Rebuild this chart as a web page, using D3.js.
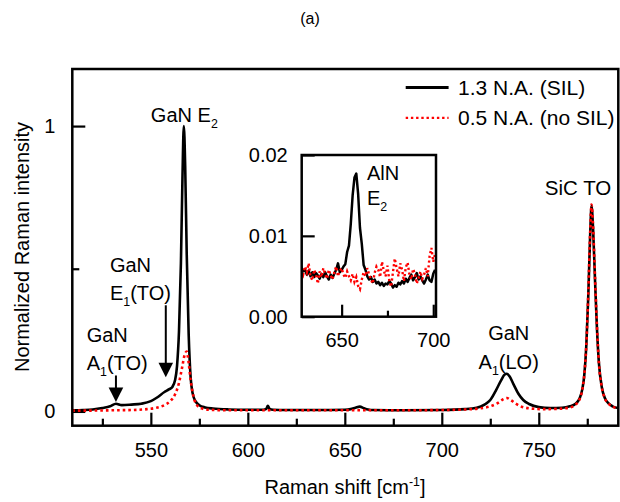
<html>
<head>
<script src="https://cdnjs.cloudflare.com/ajax/libs/d3/7.9.0/d3.min.js"></script>
<style>
  body { margin: 0; background: #fff; }
  text { font-family: "Liberation Sans", Arial, sans-serif; fill: #000; }
</style>
</head>
<body onload="main()">
</body>
<script>
// 1.3 N.A. (SIL), main panel
const silShift = [509.5, 515, 520, 525, 529, 532, 535, 540, 545, 550, 553, 557, 559.5, 561, 562.5, 563.5, 564.5, 565.5, 566.3, 567, 567.7, 568.5, 569.5, 570.5, 571.5, 573, 575, 578, 582, 590, 600, 608, 609.5, 610.3, 611.2, 613, 620, 635, 650, 653, 655.5, 657.7, 660, 662, 665, 680, 700, 712, 718, 722, 725, 728, 730.5, 732.5, 733.5, 735, 737, 739.5, 742, 745, 750, 756, 762, 766, 769, 771, 772.5, 773.5, 774.5, 775.5, 776.5, 777.2, 778, 779, 780, 781, 782.5, 784, 786, 788, 791]
const silIntensity = [0.004, 0.005, 0.007, 0.012, 0.018, 0.027, 0.022, 0.024, 0.027, 0.036, 0.048, 0.068, 0.078, 0.085, 0.11, 0.16, 0.28, 0.52, 0.82, 1.0, 0.86, 0.55, 0.27, 0.12, 0.065, 0.036, 0.022, 0.014, 0.01, 0.007, 0.006, 0.006, 0.009, 0.02, 0.009, 0.006, 0.005, 0.005, 0.006, 0.008, 0.013, 0.017, 0.011, 0.007, 0.005, 0.004, 0.005, 0.008, 0.013, 0.024, 0.04, 0.075, 0.108, 0.13, 0.132, 0.122, 0.095, 0.062, 0.04, 0.026, 0.015, 0.012, 0.013, 0.018, 0.027, 0.045, 0.08, 0.13, 0.23, 0.4, 0.62, 0.72, 0.64, 0.46, 0.29, 0.17, 0.085, 0.048, 0.028, 0.018, 0.012]

// 0.5 N.A. (no SIL), main panel
const noSilShift = [509.5, 520, 530, 540, 548, 553, 557, 560, 562.5, 564.5, 566, 567.5, 568.5, 569.5, 570.5, 571.5, 572.5, 574, 576, 580, 590, 610, 650, 680, 700, 712, 720, 725, 729, 731.5, 733.5, 735.5, 738, 741, 745, 752, 760, 766, 769, 771, 772.5, 773.5, 774.5, 775.5, 776.5, 777.2, 778, 779, 780, 781, 782.5, 784, 786, 788, 791]
const noSilIntensity = [0.003, 0.003, 0.004, 0.005, 0.008, 0.013, 0.022, 0.036, 0.06, 0.1, 0.15, 0.2, 0.21, 0.17, 0.11, 0.068, 0.04, 0.02, 0.011, 0.006, 0.004, 0.004, 0.004, 0.004, 0.005, 0.007, 0.011, 0.018, 0.03, 0.042, 0.047, 0.04, 0.028, 0.017, 0.011, 0.008, 0.009, 0.014, 0.024, 0.042, 0.078, 0.13, 0.23, 0.41, 0.63, 0.725, 0.65, 0.47, 0.3, 0.17, 0.085, 0.047, 0.027, 0.017, 0.011]

// inset (AlN E2 region)
const insetShift = [628, 629, 630, 631, 632, 633, 634, 635, 636, 637, 638, 639, 640, 641, 642, 643, 644, 645, 646, 647, 648, 649, 650, 651, 652, 653, 654, 655, 656, 657, 658, 659, 660, 661, 662, 663, 664, 665, 666, 667, 668, 669, 670, 671, 672, 673, 674, 675, 676, 677, 678, 679, 680, 681, 682, 683, 684, 685, 686, 687, 688, 689, 690, 691, 692, 693, 694, 695, 696, 697, 698, 699, 700, 701]
const insetSil = [0.0062, 0.0056, 0.0058, 0.0052, 0.0057, 0.0050, 0.0055, 0.0049, 0.0054, 0.0051, 0.0047, 0.0053, 0.0049, 0.0055, 0.0050, 0.0046, 0.0052, 0.0048, 0.0053, 0.0058, 0.0066, 0.0055, 0.0058, 0.0062, 0.0065, 0.0080, 0.0088, 0.0115, 0.0150, 0.0172, 0.0177, 0.0152, 0.0110, 0.0090, 0.0064, 0.0058, 0.0050, 0.0046, 0.0049, 0.0043, 0.0046, 0.0041, 0.0043, 0.0039, 0.0042, 0.0038, 0.0041, 0.0040, 0.0044, 0.0041, 0.0036, 0.0039, 0.0037, 0.0042, 0.0040, 0.0044, 0.0041, 0.0047, 0.0043, 0.0048, 0.0052, 0.0045, 0.0049, 0.0054, 0.0046, 0.0050, 0.0045, 0.0041, 0.0046, 0.0052, 0.0045, 0.0043, 0.0053, 0.0058]
const insetNoSil = [0.0058, 0.0052, 0.0062, 0.0055, 0.0066, 0.0050, 0.0045, 0.0058, 0.0052, 0.0041, 0.0056, 0.0049, 0.0060, 0.0053, 0.0047, 0.0058, 0.0051, 0.0046, 0.0055, 0.0062, 0.0050, 0.0057, 0.0060, 0.0052, 0.0048, 0.0056, 0.0050, 0.0045, 0.0053, 0.0043, 0.0049, 0.0038, 0.0034, 0.0046, 0.0055, 0.0050, 0.0060, 0.0052, 0.0046, 0.0041, 0.0054, 0.0062, 0.0058, 0.0049, 0.0068, 0.0057, 0.0050, 0.0063, 0.0045, 0.0037, 0.0055, 0.0072, 0.0060, 0.0050, 0.0066, 0.0058, 0.0044, 0.0061, 0.0067, 0.0052, 0.0046, 0.0059, 0.0053, 0.0041, 0.0048, 0.0056, 0.0047, 0.0052, 0.0060, 0.0050, 0.0075, 0.0085, 0.0068, 0.0078]

const xMajorTicks = [550, 600, 650, 700, 750]
const xMinorTicks = [525, 575, 625, 675, 725, 775]
const yMajorTicks = [0, 1]
const yMinorTicks = [0.5]
const insetXMajor = [650, 700]
const insetXMinor = [675]
const insetYTicks = [0, 0.01, 0.02]
const seriesNames = ['1.3 N.A. (SIL)', '0.5 N.A. (no SIL)']

const FONT = '"Liberation Sans", Arial, sans-serif'

function styleAxis(g, size) {
  g.attr('font-family', FONT).attr('font-size', size)
  g.select('.domain').remove()
  g.selectAll('.tick line').attr('stroke', '#000').attr('stroke-width', 2.2)
  g.selectAll('.tick text').attr('fill', '#000')
}

// text with sub/superscripts: parts = [[text, 'sub'|'sup'|undefined], ...]
function richText(g, x, y, parts, size, anchor) {
  const t = g.append('text').attr('x', x).attr('y', y).attr('font-size', size)
    .attr('text-anchor', anchor || 'start')
  let shift = 0
  parts.forEach(([s, kind]) => {
    const target = kind === 'sub' ? size * 0.3 : kind === 'sup' ? -size * 0.38 : 0
    t.append('tspan').attr('dy', target - shift)
      .attr('font-size', kind ? size * 0.62 : size)
      .text(s)
    shift = target
  })
  return t
}

function main() {
  const width = 620, height = 502
  const svg = d3.select('body').append('svg').attr('width', width).attr('height', height)

  const left = 72.3, right = 618.3, top = 69, bottom = 425.7
  const x = d3.scaleLinear([509.5, 791], [left, right])
  const y = d3.scaleLinear([-0.05, 1.2], [bottom, top])

  svg.append('text').attr('x', 310).attr('y', 24).attr('text-anchor', 'middle')
    .attr('font-size', 16).text('(a)')

  svg.append('clipPath').attr('id', 'mainClip').append('rect')
    .attr('x', left).attr('y', top).attr('width', right - left).attr('height', bottom - top)

  // axes (ticks point inward)
  svg.append('g').attr('transform', `translate(0,${bottom})`)
    .call(d3.axisBottom(x).tickValues(xMajorTicks).tickSize(-13).tickPadding(17))
    .call(g => styleAxis(g, 20))
  svg.append('g').attr('transform', `translate(0,${bottom})`)
    .call(d3.axisBottom(x).tickValues(xMinorTicks).tickSize(-7).tickFormat(''))
    .call(g => styleAxis(g, 20))
  svg.append('g').attr('transform', `translate(${left},0)`)
    .call(d3.axisLeft(y).tickValues(yMajorTicks).tickSize(-13).tickPadding(17).tickFormat(d3.format('d')))
    .call(g => styleAxis(g, 20))
  svg.append('g').attr('transform', `translate(${left},0)`)
    .call(d3.axisLeft(y).tickValues(yMinorTicks).tickSize(-7).tickFormat(''))
    .call(g => styleAxis(g, 20))

  const line = d3.line().x(d => x(d[0])).y(d => y(d[1])).curve(d3.curveMonotoneX)
  const plot = svg.append('g').attr('clip-path', 'url(#mainClip)')
  plot.append('path').datum(silShift.map((s, i) => [s, silIntensity[i]]))
    .attr('d', line).attr('fill', 'none').attr('stroke', '#000').attr('stroke-width', 2.6)
    .attr('stroke-linejoin', 'round')
  plot.append('path').datum(noSilShift.map((s, i) => [s, noSilIntensity[i]]))
    .attr('d', line).attr('fill', 'none').attr('stroke', '#ff0000').attr('stroke-width', 2.6)
    .attr('stroke-dasharray', '2.6,3')

  svg.append('rect').attr('x', left).attr('y', top).attr('width', right - left).attr('height', bottom - top)
    .attr('fill', 'none').attr('stroke', '#000').attr('stroke-width', 2.5)

  // axis titles
  richText(svg, 345, 494, [['Raman shift [cm'], ['-1', 'sup'], [']']], 20, 'middle')
  svg.append('text').attr('transform', 'translate(29,247) rotate(-90)').attr('text-anchor', 'middle')
    .attr('font-size', 20).text('Normalized Raman intensity')

  // legend
  const legend = svg.append('g')
  seriesNames.forEach((name, i) => {
    const ly = 87.5 + i * 30.4
    legend.append('line').attr('x1', 405.7).attr('x2', 448.6).attr('y1', ly).attr('y2', ly)
      .attr('stroke', i ? '#ff0000' : '#000').attr('stroke-width', i ? 2.4 : 2.8)
      .attr('stroke-dasharray', i ? '2.4,2.8' : null)
    legend.append('text').attr('x', 458).attr('y', ly + 7.5).attr('font-size', 21).text(name)
  })

  // peak labels
  richText(svg, x(550), y(1.016), [['GaN E'], ['2', 'sub']], 20)
  richText(svg, x(528.9), y(0.487), [['GaN']], 20)
  richText(svg, x(528.9), y(0.389), [['E'], ['1', 'sub'], ['(TO)']], 20)
  richText(svg, x(516.9), y(0.242), [['GaN']], 20)
  richText(svg, x(516.9), y(0.144), [['A'], ['1', 'sub'], ['(TO)']], 20)
  richText(svg, x(734.5), y(0.249), [['GaN']], 20, 'middle')
  richText(svg, x(734.5), y(0.147), [['A'], ['1', 'sub'], ['(LO)']], 20, 'middle')
  richText(svg, x(753.1), y(0.76), [['SiC TO']], 20.5)

  // arrows
  const arrows = [[532, 0.126, 0.033], [557.7, 0.372, 0.12]]
  arrows.forEach(([ax, y0, y1]) => {
    const px = x(ax), tip = y(y1)
    svg.append('line').attr('x1', px).attr('x2', px).attr('y1', y(y0)).attr('y2', tip - 10)
      .attr('stroke', '#000').attr('stroke-width', 2)
    svg.append('path').attr('d', `M${px - 7.3},${tip - 14.5}L${px + 7.3},${tip - 14.5}L${px},${tip}Z`)
      .attr('fill', '#000')
  })

  // inset
  const iL = 301.7, iR = 436, iT = 155, iB = 316.7
  const xi = d3.scaleLinear([628.2, 701.5], [iL, iR])
  const yi = d3.scaleLinear([0, 0.02], [iB, iT])
  svg.append('clipPath').attr('id', 'insetClip').append('rect')
    .attr('x', iL).attr('y', iT).attr('width', iR - iL).attr('height', iB - iT)

  svg.append('g').attr('transform', `translate(0,${iB})`)
    .call(d3.axisBottom(xi).tickValues(insetXMajor).tickSize(-12).tickPadding(16))
    .call(g => styleAxis(g, 20))
  svg.append('g').attr('transform', `translate(0,${iB})`)
    .call(d3.axisBottom(xi).tickValues(insetXMinor).tickSize(-6).tickFormat(''))
    .call(g => styleAxis(g, 20))
  svg.append('g').attr('transform', `translate(${iL},0)`)
    .call(d3.axisLeft(yi).tickValues(insetYTicks).tickSize(-13).tickPadding(14).tickFormat(d3.format('.2f')))
    .call(g => styleAxis(g, 20))

  const iline = d3.line().x(d => xi(d[0])).y(d => yi(d[1]))
  const ip = svg.append('g').attr('clip-path', 'url(#insetClip)')
  ip.append('path').datum(insetShift.map((s, i) => [s, insetSil[i]]))
    .attr('d', iline).attr('fill', 'none').attr('stroke', '#000').attr('stroke-width', 2.5)
    .attr('stroke-linejoin', 'round')
  ip.append('path').datum(insetShift.map((s, i) => [s, insetNoSil[i]]))
    .attr('d', iline).attr('fill', 'none').attr('stroke', '#ff0000').attr('stroke-width', 2.4)
    .attr('stroke-dasharray', '2.2,2.6')

  svg.append('rect').attr('x', iL).attr('y', iT).attr('width', iR - iL).attr('height', iB - iT)
    .attr('fill', 'none').attr('stroke', '#000').attr('stroke-width', 2.5)

  richText(svg, xi(663.8), yi(0.01688), [['AlN']], 20)
  richText(svg, xi(663.8), yi(0.01379), [['E'], ['2', 'sub']], 20)
}
</script>
</html>
